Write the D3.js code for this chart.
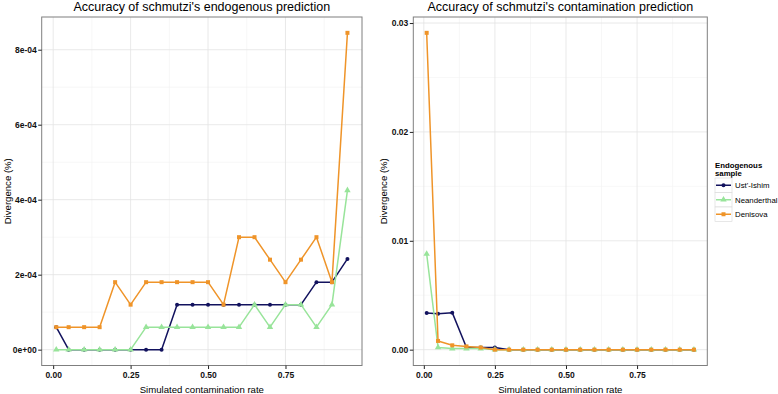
<!DOCTYPE html>
<html><head><meta charset="utf-8">
<script src="https://cdn.jsdelivr.net/npm/d3@7"></script>
<style>body{margin:0;background:#fff;} text{font-family:"Liberation Sans",Arial,sans-serif;}</style>
</head><body><svg id="c" width="778" height="394"></svg>
<script>
const rates = [0.01,0.05,0.10,0.15,0.20,0.25,0.30,0.35,0.40,0.45,0.50,0.55,0.60,0.65,0.70,0.75,0.80,0.85,0.90,0.95];
const samples = ["Ust'-Ishim","Neanderthal","Denisova"];
const colors = ["#12125e","#98e49a","#ef9429"];
// Left panel: endogenous divergence
const endoUst = [6e-5,0,0,0,0,0,0,0,1.2e-4,1.2e-4,1.2e-4,1.2e-4,1.2e-4,1.2e-4,1.2e-4,1.2e-4,1.2e-4,1.8e-4,1.8e-4,2.42e-4];
const endoNea = [0,0,0,0,0,0,6e-5,6e-5,6e-5,6e-5,6e-5,6e-5,6e-5,1.2e-4,6e-5,1.2e-4,1.2e-4,6e-5,1.2e-4,4.25e-4];
const endoDen = [6e-5,6e-5,6e-5,6e-5,1.8e-4,1.2e-4,1.8e-4,1.8e-4,1.8e-4,1.8e-4,1.8e-4,1.2e-4,3.0e-4,3.0e-4,2.4e-4,1.8e-4,2.4e-4,3.0e-4,1.8e-4,8.45e-4];
// Right panel: contamination divergence
const contUst = [0.00336,0.0033,0.0034,0.0002,0.0002,0.0002,0,0,0,0,0,0,0,0,0,0,0,0,0,0];
const contNea = [0.0088,0.0002,0.0001,0.0001,0.0001,0,0,0,0,0,0,0,0,0,0,0,0,0,0,0];
const contDen = [0.0291,0.0008,0.0004,0.0003,0.0002,0,0,0,0,0,0,0,0,0,0,0,0,0,0,0];
const xTicks = [0,0.25,0.5,0.75];
const xTickLabels = ["0.00","0.25","0.50","0.75"];
const leftYTicks = [0,2e-4,4e-4,6e-4,8e-4];
const leftYTickLabels = ["0e+00","2e-04","4e-04","6e-04","8e-04"];
const rightYTicks = [0,0.01,0.02,0.03];
const rightYTickLabels = ["0.00","0.01","0.02","0.03"];
const titles = ["Accuracy of schmutzi's endogenous prediction","Accuracy of schmutzi's contamination prediction"];
const xTitle = "Simulated contamination rate";
const yTitle = "Divergence (%)";
const legendTitle = ["Endogenous","sample"];

const svg = d3.select("#c");
const pTop = 17, pBottom = 365.5;

function panel(x0, x1, series, yMax, yTicks, yLabels, title, yTitleX) {
  const g = svg.append("g");
  const xr = 0.94*0.05;
  const x = d3.scaleLinear().domain([0.01-xr, 0.95+xr]).range([x0, x1]);
  const y = d3.scaleLinear().domain([-yMax*0.05, yMax*1.05]).range([pBottom, pTop]);
  g.append("rect").attr("x",x0).attr("y",pTop).attr("width",x1-x0).attr("height",pBottom-pTop).attr("fill","#fff");
  // minor grid
  const xm = xTicks.slice(0,-1).map((t,i)=>(t+xTicks[i+1])/2).concat([xTicks[xTicks.length-1]+0.125]).filter(v=>v<x.domain()[1]);
  const ym = yTicks.slice(0,-1).map((t,i)=>(t+yTicks[i+1])/2);
  const yStep = yTicks[1]-yTicks[0];
  if (yTicks[yTicks.length-1]+yStep/2 < y.domain()[1]) ym.push(yTicks[yTicks.length-1]+yStep/2);
  g.selectAll(".xm").data(xm).join("line").attr("x1",d=>x(d)).attr("x2",d=>x(d)).attr("y1",pTop).attr("y2",pBottom).attr("stroke","#f2f2f2").attr("stroke-width",0.6);
  g.selectAll(".ym").data(ym).join("line").attr("y1",d=>y(d)).attr("y2",d=>y(d)).attr("x1",x0).attr("x2",x1).attr("stroke","#f2f2f2").attr("stroke-width",0.6);
  g.selectAll(".xg").data(xTicks).join("line").attr("x1",d=>x(d)).attr("x2",d=>x(d)).attr("y1",pTop).attr("y2",pBottom).attr("stroke","#e3e3e3").attr("stroke-width",0.8);
  g.selectAll(".yg").data(yTicks).join("line").attr("y1",d=>y(d)).attr("y2",d=>y(d)).attr("x1",x0).attr("x2",x1).attr("stroke","#e3e3e3").attr("stroke-width",0.8);
  // series
  const line = d3.line().x((d,i)=>x(rates[i])).y(d=>y(d));
  series.forEach((s,k)=>{
    g.append("path").datum(s).attr("d",line).attr("fill","none").attr("stroke",colors[k]).attr("stroke-width",1.5).attr("stroke-linejoin","round");
    const pts = g.append("g");
    s.forEach((v,i)=>{
      const px = x(rates[i]), py = y(v);
      if (k===0) pts.append("circle").attr("cx",px).attr("cy",py).attr("r",2).attr("fill",colors[k]);
      else if (k===1) pts.append("path").attr("d",d3.symbol(d3.symbolTriangle,18)()).attr("transform",`translate(${px},${py})`).attr("fill",colors[k]);
      else pts.append("rect").attr("x",px-2).attr("y",py-2).attr("width",4).attr("height",4).attr("fill",colors[k]);
    });
  });
  g.append("rect").attr("x",x0).attr("y",pTop).attr("width",x1-x0).attr("height",pBottom-pTop).attr("fill","none").attr("stroke","#7f7f7f").attr("stroke-width",1);
  // axes
  const xa = g.append("g").attr("transform",`translate(0,${pBottom})`)
    .call(d3.axisBottom(x).tickValues(xTicks).tickFormat((d,i)=>xTickLabels[i]).tickSize(3.5).tickSizeOuter(0));
  const ya = g.append("g").attr("transform",`translate(${x0},0)`)
    .call(d3.axisLeft(y).tickValues(yTicks).tickFormat((d,i)=>yLabels[i]).tickSize(3.5).tickSizeOuter(0));
  [xa,ya].forEach(a=>{a.select(".domain").remove(); a.selectAll("line").attr("stroke","#222");
    a.selectAll("text").attr("font-size","8.5px").attr("font-weight","bold").attr("fill","#111").attr("font-family","Liberation Sans, Arial, sans-serif");});
  xa.selectAll("text").attr("dy","0.71em").attr("y",6);
  ya.selectAll("text").attr("x",-5);
  g.append("text").attr("x",(x0+x1)/2).attr("y",10.5).attr("text-anchor","middle").attr("font-size","12.5px").attr("fill","#000").text(title);
  g.append("text").attr("x",(x0+x1)/2).attr("y",392.5).attr("text-anchor","middle").attr("font-size","9.6px").attr("fill","#000").text(xTitle);
  g.append("text").attr("transform",`translate(${yTitleX},${(pTop+pBottom)/2}) rotate(-90)`).attr("text-anchor","middle").attr("font-size","9.6px").attr("fill","#000").text(yTitle);
}
panel(41.7, 362, [endoUst,endoNea,endoDen], 8.45e-4, leftYTicks, leftYTickLabels, titles[0], 10.5);
panel(413.3, 707.3, [contUst,contNea,contDen], 0.0291, rightYTicks, rightYTickLabels, titles[1], 387);

// legend
const lg = svg.append("g").attr("transform","translate(715,0)");
legendTitle.forEach((t,i)=>lg.append("text").attr("x",0).attr("y",168+i*8).attr("font-size","7.8px").attr("font-weight","bold").attr("fill","#000").text(t));
samples.forEach((s,k)=>{
  const yy = 178 + k*14.5;
  lg.append("rect").attr("x",0).attr("y",yy).attr("width",17).attr("height",14.5).attr("fill","#fff").attr("stroke","#d8d8d8").attr("stroke-width",0.6);
  lg.append("line").attr("x1",1).attr("x2",16).attr("y1",yy+7.25).attr("y2",yy+7.25).attr("stroke",colors[k]).attr("stroke-width",1.5);
  if (k===0) lg.append("circle").attr("cx",8.5).attr("cy",yy+7.25).attr("r",2).attr("fill",colors[k]);
  else if (k===1) lg.append("path").attr("d",d3.symbol(d3.symbolTriangle,18)()).attr("transform",`translate(8.5,${yy+7.25})`).attr("fill",colors[k]);
  else lg.append("rect").attr("x",6.5).attr("y",yy+5.25).attr("width",4).attr("height",4).attr("fill",colors[k]);
  lg.append("text").attr("x",20).attr("y",yy+10).attr("font-size","7.8px").attr("fill","#000").text(s);
});
</script></body></html>
